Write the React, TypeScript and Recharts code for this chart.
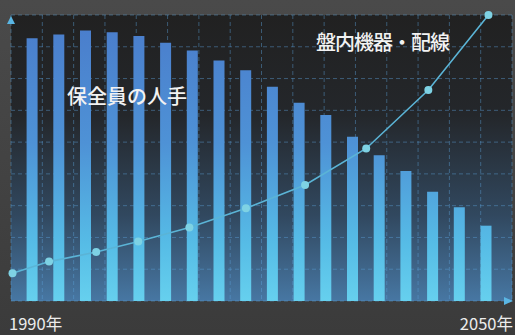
import { ComposedChart, Bar, Line, XAxis, YAxis, CartesianGrid } from 'recharts';

// 保全員の人手 (bars) – one value per period
const PERIODS = ['P01', 'P02', 'P03', 'P04', 'P05', 'P06', 'P07', 'P08', 'P09', 'P10', 'P11', 'P12', 'P13', 'P14', 'P15', 'P16', 'P17', 'P18'];
const STAFF = [82.7, 83.9, 85.1, 84.6, 83.4, 81.3, 78.8, 75.7, 72.6, 67.4, 62.4, 58.5, 51.7, 45.9, 40.9, 34.4, 29.5, 23.7];

// 盤内機器・配線 (line) – position along the time axis (0..100) and value
const EQUIP_POS = [0.3, 7.6, 17.0, 25.4, 35.6, 46.9, 58.7, 70.9, 83.3, 95.3];
const EQUIP = [8.7, 12.4, 15.4, 18.7, 23.1, 29.2, 36.5, 48.0, 66.4, 90];

const START_LABEL = '1990年';
const END_LABEL = '2050年';

const W = 515;
const H = 335;
const MARGIN = { top: 15, right: 3, bottom: 34, left: 11 };
const FONT = '"Noto Sans CJK JP", "Noto Sans", sans-serif';

const barData = PERIODS.map((p, i) => ({ p, v: STAFF[i] }));
const lineData = EQUIP_POS.map((t, i) => ({ t, v: EQUIP[i] }));

const plotW = W - MARGIN.left - MARGIN.right;
const plotH = H - MARGIN.top - MARGIN.bottom;

export default function App() {
  const axisColor = '#5ab6e4';
  return (
    <div
      style={{
        position: 'fixed',
        left: 0,
        top: 0,
        width: W,
        height: H,
        background: 'linear-gradient(#4a4a4a, #3b3b3b)',
        fontFamily: FONT,
      }}
    >
      <ComposedChart width={W} height={H} data={barData} margin={MARGIN}>
        <defs>
          <linearGradient id="plotBg" x1="0" y1="0" x2="0" y2="1">
            <stop offset="0%" stopColor="#212121" />
            <stop offset="35%" stopColor="#24272b" />
            <stop offset="70%" stopColor="#31485f" />
            <stop offset="100%" stopColor="#4777a3" />
          </linearGradient>
          <linearGradient id="barFill" gradientUnits="userSpaceOnUse" x1="0" y1={MARGIN.top} x2="0" y2={H - MARGIN.bottom}>
            <stop offset="0%" stopColor="#4a7ccb" />
            <stop offset="45%" stopColor="#4e92d6" />
            <stop offset="80%" stopColor="#56bce6" />
            <stop offset="100%" stopColor="#66d0ee" />
          </linearGradient>
        </defs>
        <CartesianGrid fill="url(#plotBg)" horizontal={false} vertical={false} />
        <XAxis
          xAxisId="b"
          dataKey="p"
          type="category"
          height={0}
          tick={false}
          tickLine={false}
          padding={{ left: 7.6, right: 12.8 }}
          axisLine={{ stroke: axisColor, strokeWidth: 2 }}
        />
        <XAxis xAxisId="l" dataKey="t" type="number" domain={[0, 100]} hide />
        <YAxis
          domain={[0, 90]}
          width={0}
          tick={false}
          tickLine={false}
          axisLine={{ stroke: axisColor, strokeWidth: 2 }}
        />
        <Bar xAxisId="b" dataKey="v" barSize={11} fill="url(#barFill)" isAnimationActive={false} />
        <CartesianGrid
          stroke="rgba(90,160,215,0.45)"
          strokeDasharray="4 3"
          verticalCoordinatesGenerator={() =>
            Array.from({ length: 17 }, (_, k) => MARGIN.left + (k * plotW) / 16)
          }
          horizontalCoordinatesGenerator={() =>
            Array.from({ length: 10 }, (_, k) => MARGIN.top + (k * plotH) / 9)
          }
        />
        <Line
          xAxisId="l"
          data={lineData}
          dataKey="v"
          type="linear"
          stroke="#5bb4d6"
          strokeWidth={1.6}
          dot={{ r: 4, fill: '#7ed2e4', stroke: 'none' }}
          isAnimationActive={false}
        />
      </ComposedChart>
      <svg width={W} height={H} style={{ position: 'absolute', left: 0, top: 0, pointerEvents: 'none' }}>
        <polygon
          points={`${MARGIN.left - 4},${MARGIN.top + 9} ${MARGIN.left},${MARGIN.top + 1} ${MARGIN.left + 4},${MARGIN.top + 9}`}
          fill={axisColor}
        />
        <polygon
          points={`${W - MARGIN.right - 8},${H - MARGIN.bottom - 4} ${W - MARGIN.right + 1},${H - MARGIN.bottom} ${W - MARGIN.right - 8},${H - MARGIN.bottom + 4}`}
          fill={axisColor}
        />
        <text x={67} y={104} fill="#f2f2f2" fontSize={20} fontWeight={500} fontFamily={FONT}>
          保全員の人手
        </text>
        <text x={316} y={50} fill="#f2f2f2" fontSize={20} fontWeight={500} fontFamily={FONT} letterSpacing={-1}>
          盤内機器・配線
        </text>
        <text x={9} y={330} fill="#ececec" fontSize={16.5} fontFamily={FONT}>
          {START_LABEL}
        </text>
        <text x={513} y={330} textAnchor="end" fill="#ececec" fontSize={16.5} fontFamily={FONT}>
          {END_LABEL}
        </text>
      </svg>
    </div>
  );
}
